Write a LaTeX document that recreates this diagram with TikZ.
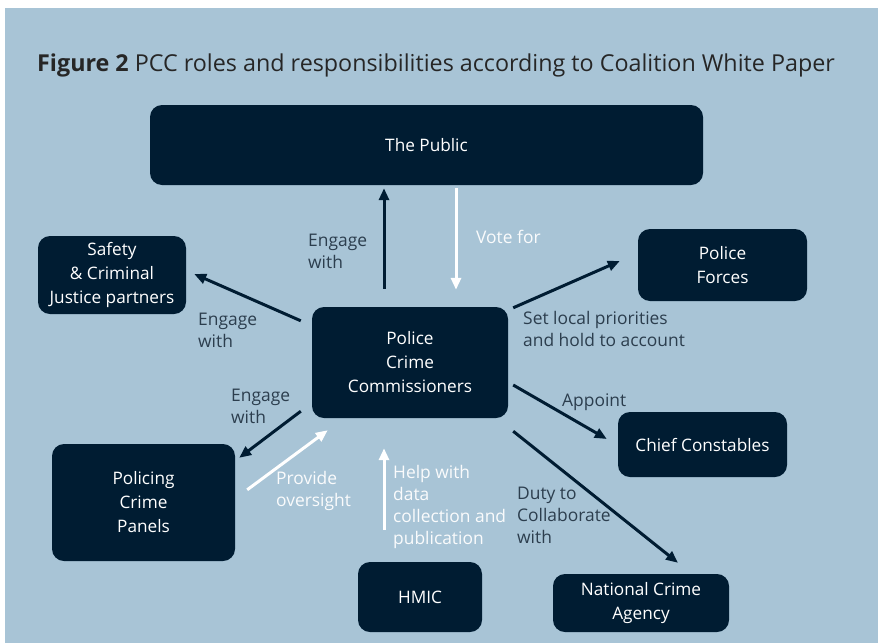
\documentclass[tikz,border=0pt]{standalone}
\usepackage{fontspec}
\setmainfont{Open Sans}
\usetikzlibrary{arrows.meta}

\definecolor{bgblue}{HTML}{A8C4D6}
\definecolor{navy}{HTML}{001C32}
\definecolor{lbltext}{HTML}{2C3E4E}

\tikzset{
  box/.style={rectangle,rounded corners=12pt,fill=navy,text=white,align=center,
    font=\fontsize{17.2}{24}\selectfont,inner sep=0pt},
  lbl/.style={align=left,anchor=west,inner sep=0pt,text=lbltext,
    font=\fontsize{17.4}{22}\selectfont},
  wlbl/.style={lbl,text=white!94!bgblue},
  darr/.style={draw=navy,line width=3pt,-{Triangle[length=12pt,width=10pt]}},
  warr/.style={darr,draw=white,fill=white}
}

\begin{document}
\begin{tikzpicture}[x=1pt,y=-1pt]
    \useasboundingbox (0,0) rectangle (878,643);
    \fill[white] (0,0) rectangle (878,643);
    \fill[bgblue] (5,8) rectangle (878,643);

    \node[anchor=base west,inner sep=0pt,text=black!85,font=\fontsize{23.3}{26}\selectfont]
      (title) at (37,71) {\textbf{Figure 2} PCC roles and responsibilities according to Coalition White Paper};

    % boxes
    \node[box,minimum width=553pt,minimum height=80pt] (public) at (426.5,145) {The Public};
    \node[box,minimum width=148pt,minimum height=78pt] (safety) at (112,275) {Safety\\ \& Criminal\\Justice partners};
    \node[box,minimum width=196pt,minimum height=111pt] (pcc) at (410,362.5) {Police\\Crime\\Commissioners};
    \node[box,minimum width=169pt,minimum height=72pt] (forces) at (722.5,265) {Police\\Forces};
    \node[box,minimum width=169pt,minimum height=65pt] (chief) at (702.5,444.5) {Chief Constables};
    \node[box,minimum width=183pt,minimum height=117pt] (panels) at (143.5,502.5) {Policing\\Crime\\Panels};
    \node[box,minimum width=124pt,minimum height=70pt] (hmic) at (420,597) {HMIC};
    \node[box,minimum width=176pt,minimum height=58pt] (nca) at (641,603) {National Crime\\Agency};

    % arrows
    \draw[darr] ([shift={(-26,-18)}]pcc.north) -- ([shift={(-42.5,3)}]public.south);
    \draw[warr] ([shift={(29.5,3)}]public.south) -- ([shift={(46,-17)}]pcc.north);
    \draw[darr] ([shift={(-11,14)}]pcc.north west) -- ([shift={(8,-1)}]safety.east);
    \draw[darr] ([shift={(-11,-7)}]pcc.south west) -- ([shift={(4,14)}]panels.north east);
    \draw[warr] ([shift={(12,46)}]panels.north east) -- ([shift={(16,12)}]pcc.south west);
    \draw[warr] ([shift={(-36,-32)}]hmic.north) -- ([shift={(-26,30)}]pcc.south);
    \draw[darr] ([shift={(5,1)}]pcc.north east) -- ([shift={(-18,-4)}]forces.west);
    \draw[darr] ([shift={(5,22.5)}]pcc.east) -- ([shift={(-11,-5.5)}]chief.west);
    \draw[darr] ([shift={(5,13)}]pcc.south east) -- ([shift={(37,-11)}]nca.north);

    % labels
    \node[lbl] (engpub) at (308,251) {Engage\\with};
    \node[wlbl] (vote) at (476,237) {Vote for};
    \node[lbl] (engsaf) at (198,330.5) {Engage\\with};
    \node[lbl] (engpan) at (231,406) {Engage\\with};
    \node[wlbl] (oversight) at (276,491) {Provide\\oversight};
    \node[wlbl] (help) at (393,507) {Help with\\data\\collection and\\publication};
    \node[lbl] (priorities) at (523,328.5) {Set local priorities\\and hold to account};
    \node[lbl] (appoint) at (562,402) {Appoint};
    \node[lbl] (duty) at (517,515) {Duty to\\Collaborate\\with};
\end{tikzpicture}
\end{document}
